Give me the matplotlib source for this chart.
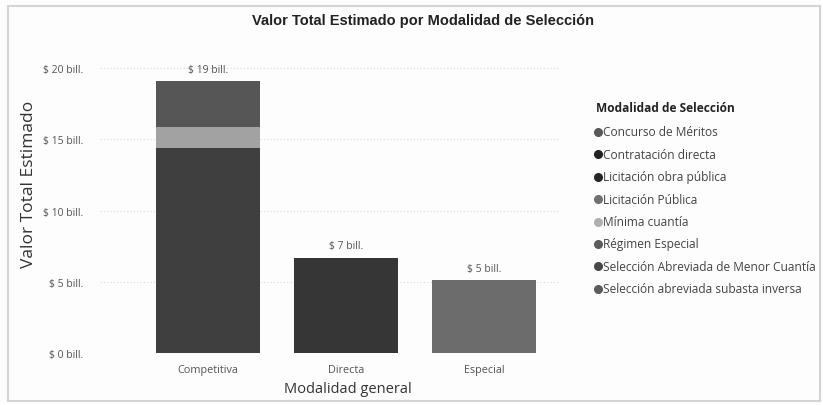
import numpy as np
import matplotlib
matplotlib.use("Agg")
import matplotlib.pyplot as plt
from matplotlib.lines import Line2D
from matplotlib.patches import Rectangle


# Data (values in billones de pesos).
categories = ["Competitiva", "Directa", "Especial"]

legendNames = ["Concurso de Méritos",
               "Contratación directa",
               "Licitación obra pública",
               "Licitación Pública",
               "Mínima cuantía",
               "Régimen Especial",
               "Selección Abreviada de Menor Cuantía",
               "Selección abreviada subasta inversa"]

# One list per modalidad, one value per category (stacked bottom to top in legend order).
concursoMeritos   = [0.0, 0.0, 0.0]
contratacionDir   = [0.0, 6.7, 0.0]
licitacionObra    = [0.0, 0.0, 0.0]
licitacionPublica = [14.4, 0.0, 0.0]
minimaCuantia     = [1.5, 0.0, 0.0]
regimenEspecial   = [0.0, 0.0, 5.1]
selMenorCuantia   = [3.2, 0.0, 0.0]
selSubasta        = [0.0, 0.0, 0.0]

totalLabels = ["$ 19 bill.", "$ 7 bill.", "$ 5 bill."]
yTicks = [0, 5, 10, 15, 20]

seriesValues = [concursoMeritos, contratacionDir, licitacionObra, licitacionPublica,
                minimaCuantia, regimenEspecial, selMenorCuantia, selSubasta]
barColours = ["#595959", "#363636", "#2e2e2e", "#3f3f3f",
              "#a2a2a2", "#6c6c6c", "#565656", "#5e5e5e"]
markerColours = ["#5a5a5a", "#222222", "#262626", "#707070",
                 "#b0b0b0", "#5c5c5c", "#474747", "#5a5a5a"]

textGrey = "#555555"
sansFont = "Open Sans"
W = 823.0
H = 406.0


#--------------------------------------------------------------------------------------------------
# Figure and axes
#--------------------------------------------------------------------------------------------------
fig = plt.figure(figsize = (8.23, 4.06), dpi = 100)
fig.patch.set_facecolor("#fdfdfd")

# Faint frame of the scanned visual.
fig.add_artist(Rectangle((8 / W, 4 / H), 812 / W, 1 - 11 / H, transform = fig.transFigure,
                         fill = False, edgecolor = "#d4d4d4", linewidth = 1.5))

ax = fig.add_axes([100 / W, 52 / H, 460 / W, 299 / H])
ax.set_facecolor("#fdfdfd")

xPositions = np.arange(len(categories))
bottoms = np.zeros(len(categories))

for i in range(0, len(seriesValues)):
    values = np.array(seriesValues[i])
    ax.bar(xPositions, values, width = 0.75, bottom = bottoms, color = barColours[i],
           edgecolor = "none", zorder = 3)
    bottoms = bottoms + values

for i in range(0, len(categories)):
    ax.text(xPositions[i], bottoms[i] + 0.45, totalLabels[i], ha = "center", va = "bottom",
            fontsize = 7.5, color = textGrey, family = sansFont)

ax.set_xlim(-0.78, 2.55)
ax.set_ylim(0, 21)

ax.set_xticks(xPositions)
ax.set_xticklabels(categories, fontsize = 7.8, color = textGrey, family = sansFont)
ax.set_yticks(yTicks)
ax.set_yticklabels(["$ " + str(t) + " bill." for t in yTicks], fontsize = 7.5,
                   color = textGrey, family = sansFont)
ax.tick_params(axis = "both", length = 0, pad = 12)
ax.tick_params(axis = "x", pad = 8)

ax.yaxis.grid(True, linestyle = (0, (1, 2)), color = "#d8d8d8", linewidth = 0.8, zorder = 0)
for side in ["top", "right", "bottom", "left"]:
    ax.spines[side].set_visible(False)

fig.text(348 / W, 1 - 390 / H, "Modalidad general", ha = "center", va = "center",
         fontsize = 10.5, color = "#333333", family = sansFont)
fig.text(29 / W, 1 - 184 / H, "Valor Total Estimado", ha = "center", va = "center", rotation = 90,
         fontsize = 12.5, color = "#333333", family = sansFont)

fig.text(423 / W, 1 - 21 / H, "Valor Total Estimado por Modalidad de Selección", ha = "center", va = "center",
         fontsize = 10.5, fontweight = "bold", color = "#222222", family = "Liberation Sans")


#--------------------------------------------------------------------------------------------------
# Legend
#--------------------------------------------------------------------------------------------------
fig.text(596 / W, 1 - 108 / H, "Modalidad de Selección", ha = "left", va = "center",
         fontsize = 8.6, fontweight = "bold", color = "#222222", family = sansFont)

for i in range(0, len(legendNames)):
    yRow = 1 - (133 + 22.4 * i) / H
    fig.add_artist(Line2D([598 / W], [yRow], marker = "o", linestyle = "none", markersize = 5.5,
                          markerfacecolor = markerColours[i], markeredgecolor = markerColours[i],
                          transform = fig.transFigure))
    fig.text(603 / W, yRow, legendNames[i], ha = "left", va = "center",
             fontsize = 8.6, color = "#444444", family = sansFont)

fig.savefig("out.png", dpi = 100, facecolor = fig.get_facecolor())
